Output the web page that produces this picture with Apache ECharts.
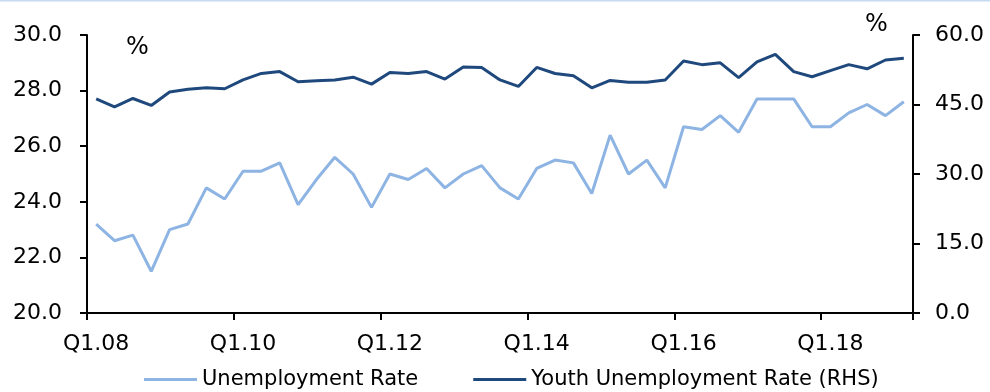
<!DOCTYPE html>
<html>
<head>
<meta charset="utf-8">
<script src="https://cdn.jsdelivr.net/npm/echarts@6/dist/echarts.min.js"></script>
<style>
html,body{margin:0;padding:0;background:#fff;}
#chart{width:990px;height:392px;}
</style>
</head>
<body>
<div id="chart"></div>
<script>
var categories = [
  'Q1.08','Q2.08','Q3.08','Q4.08','Q1.09','Q2.09','Q3.09','Q4.09',
  'Q1.10','Q2.10','Q3.10','Q4.10','Q1.11','Q2.11','Q3.11','Q4.11',
  'Q1.12','Q2.12','Q3.12','Q4.12','Q1.13','Q2.13','Q3.13','Q4.13',
  'Q1.14','Q2.14','Q3.14','Q4.14','Q1.15','Q2.15','Q3.15','Q4.15',
  'Q1.16','Q2.16','Q3.16','Q4.16','Q1.17','Q2.17','Q3.17','Q4.17',
  'Q1.18','Q2.18','Q3.18','Q4.18','Q1.19'
];
var unemploymentRate = [
  23.2,22.6,22.8,21.5,23.0,23.2,24.5,24.1,25.1,
  25.1,25.4,23.9,24.8,25.6,25.0,23.8,25.0,24.8,
  25.2,24.5,25.0,25.3,24.5,24.1,25.2,25.5,25.4,
  24.3,26.4,25.0,25.5,24.5,26.7,26.6,27.1,26.5,
  27.7,27.7,27.7,26.7,26.7,27.2,27.5,27.1,27.6
];
var youthUnemploymentRate = [
  46.2,44.5,46.3,44.8,47.7,48.3,48.6,48.4,50.3,
  51.7,52.1,49.9,50.1,50.3,50.9,49.4,51.9,51.7,
  52.1,50.5,53.1,53.0,50.3,48.9,53.0,51.7,51.2,
  48.6,50.2,49.8,49.8,50.3,54.4,53.6,54.0,50.8,
  54.2,55.8,52.1,51.0,52.3,53.6,52.7,54.6,55.0
];
var seriesNames = ['Unemployment Rate', 'Youth Unemployment Rate (RHS)'];

var FONT = 'DejaVu Sans';
var chart = echarts.init(document.getElementById('chart'), null, {renderer: 'canvas'});
var axisLineStyle = {color: '#000', width: 2};
chart.setOption({
  animation: false,
  backgroundColor: '#fff',
  textStyle: {fontFamily: FONT},
  grid: {left: 87, right: 77, top: 35, bottom: 79, containLabel: false},
  legend: {
    left: 139, top: 364,
    itemWidth: 53, itemHeight: 3, itemGap: 55,
    icon: 'rect',
    textStyle: {fontFamily: FONT, fontSize: 21, color: '#000'},
    data: seriesNames
  },
  xAxis: {
    type: 'category',
    data: categories,
    boundaryGap: true,
    axisLine: {lineStyle: axisLineStyle},
    axisTick: {show: true, interval: 7, length: 7, lineStyle: {color: '#000', width: 2}},
    axisLabel: {interval: 7, margin: 20, fontFamily: FONT, fontSize: 22, color: '#000'},
    splitLine: {show: false}
  },
  yAxis: [
    {
      type: 'value', min: 20, max: 30, interval: 2,
      axisLine: {show: true, lineStyle: axisLineStyle},
      axisTick: {show: true, length: 7, lineStyle: {color: '#000', width: 2}},
      axisLabel: {margin: 25, fontFamily: FONT, fontSize: 22, color: '#000',
        formatter: function (v) { return v.toFixed(1); }},
      splitLine: {show: false}
    },
    {
      type: 'value', min: 0, max: 60, interval: 15, position: 'right',
      axisLine: {show: true, lineStyle: axisLineStyle},
      axisTick: {show: true, length: 7, lineStyle: {color: '#000', width: 2}},
      axisLabel: {margin: 22, fontFamily: FONT, fontSize: 22, color: '#000',
        formatter: function (v) { return v.toFixed(1); }},
      splitLine: {show: false}
    }
  ],
  graphic: [
    {type: 'rect', shape: {x: 0, y: 0, width: 990, height: 1.5}, style: {fill: '#c6d9f1'}},
    {type: 'text', left: 126, top: 36, style: {text: '%', fontFamily: FONT, fontSize: 24, fill: '#000'}},
    {type: 'text', left: 865, top: 13, style: {text: '%', fontFamily: FONT, fontSize: 24, fill: '#000'}}
  ],
  series: [
    {
      name: seriesNames[0], type: 'line', yAxisIndex: 0,
      data: unemploymentRate, showSymbol: false, symbol: 'none',
      lineStyle: {color: '#8db4e3', width: 3},
      itemStyle: {color: '#8db4e3'}
    },
    {
      name: seriesNames[1], type: 'line', yAxisIndex: 1,
      data: youthUnemploymentRate, showSymbol: false, symbol: 'none',
      lineStyle: {color: '#1f497d', width: 3},
      itemStyle: {color: '#1f497d'}
    }
  ]
});
</script>
</body>
</html>
